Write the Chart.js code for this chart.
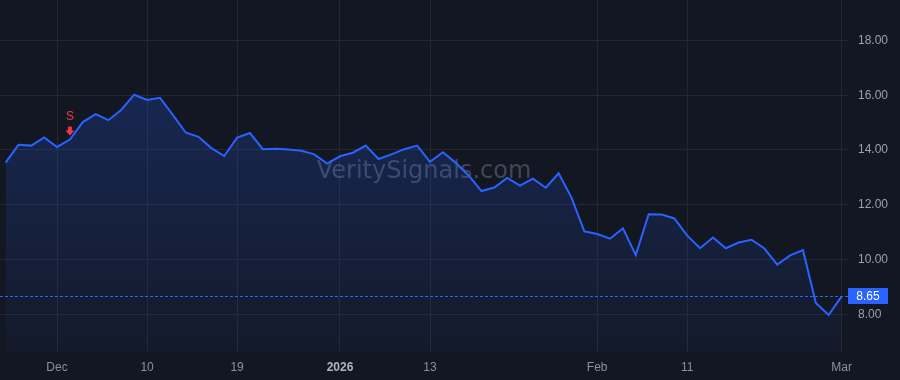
<!DOCTYPE html>
<html><head><meta charset="utf-8">
<script src="https://cdn.jsdelivr.net/npm/chart.js@4.4.1/dist/chart.umd.min.js"></script>
<style>html,body{margin:0;padding:0;background:#131722;}#wrap{width:900px;height:380px;position:relative;}</style>
</head><body><div id="wrap"><canvas id="c"></canvas></div>
<script>
const dates = ['2025-11-24','2025-11-25','2025-11-26','2025-11-28','2025-12-01','2025-12-02','2025-12-03','2025-12-04','2025-12-05','2025-12-08','2025-12-09','2025-12-10','2025-12-11','2025-12-12','2025-12-15','2025-12-16','2025-12-17','2025-12-18','2025-12-19','2025-12-22','2025-12-23','2025-12-24','2025-12-26','2025-12-29','2025-12-30','2025-12-31','2026-01-02','2026-01-05','2026-01-06','2026-01-07','2026-01-08','2026-01-09','2026-01-12','2026-01-13','2026-01-14','2026-01-15','2026-01-16','2026-01-20','2026-01-21','2026-01-22','2026-01-23','2026-01-26','2026-01-27','2026-01-28','2026-01-29','2026-01-30','2026-02-02','2026-02-03','2026-02-04','2026-02-05','2026-02-06','2026-02-09','2026-02-10','2026-02-11','2026-02-12','2026-02-13','2026-02-17','2026-02-18','2026-02-19','2026-02-20','2026-02-23','2026-02-24','2026-02-25','2026-02-26','2026-02-27','2026-03-02'];
const prices = [13.54,14.19,14.16,14.46,14.11,14.38,15.02,15.31,15.09,15.47,16.02,15.83,15.91,15.28,14.64,14.48,14.07,13.78,14.45,14.62,14.03,14.05,14.02,13.97,13.84,13.50,13.77,13.90,14.16,13.67,13.84,14.03,14.16,13.57,13.92,13.53,13.07,12.50,12.63,12.98,12.70,12.95,12.62,13.15,12.26,11.03,10.93,10.76,11.14,10.16,11.65,11.64,11.50,10.87,10.41,10.80,10.41,10.62,10.72,10.40,9.81,10.15,10.34,8.41,7.97,8.65];
const tickIndex = [4,11,18,26,33,46,53,65];
const tickText = ['Dec','10','19','2026','13','Feb','11','Mar'];
const yTicks = [8,10,12,14,16,18];
const signalIndex = [5];
const signalText = ['S'];
const watermarkText = 'VeritySignals.com';

const FONT = '"Liberation Sans", Arial, sans-serif';
const BG = '#131722';
const GRID = '#232733';
const BLUE = '#2962ff';
const RED = '#f23645';

const bgPlugin = {
  id: 'bg',
  beforeDraw(chart) {
    const c = chart.ctx;
    c.save(); c.fillStyle = BG; c.fillRect(0, 0, chart.width, chart.height); c.restore();
  }
};
const watermarkPlugin = {
  id: 'wm',
  beforeDatasetsDraw(chart) {
    const c = chart.ctx;
    c.save();
    c.font = '24px "DejaVu Sans", sans-serif';
    c.fillStyle = 'rgba(210,220,255,0.24)';
    c.textAlign = 'center'; c.textBaseline = 'middle';
    c.fillText(watermarkText, 424, 172);
    c.restore();
  }
};
const overlayPlugin = {
  id: 'overlay',
  afterDatasetsDraw(chart) {
    const c = chart.ctx, ca = chart.chartArea;
    const xs = chart.scales.x, ys = chart.scales.y;
    const last = prices[prices.length - 1];
    const py = Math.round(ys.getPixelForValue(last)) + 0.5;
    c.save();
    c.strokeStyle = BLUE; c.lineWidth = 1; c.setLineDash([3, 2]);
    c.beginPath(); c.moveTo(ca.left, py); c.lineTo(ca.right, py); c.stroke();
    c.setLineDash([]);
    signalIndex.forEach((idx, k) => {
      const x = xs.getPixelForValue(idx);
      const y = ys.getPixelForValue(prices[idx]);
      c.fillStyle = RED;
      c.fillRect(x - 2, y - 13, 4, 5);
      c.beginPath(); c.moveTo(x - 4.5, y - 9); c.lineTo(x + 4.5, y - 9); c.lineTo(x, y - 4); c.closePath(); c.fill();
      c.font = '12px ' + FONT; c.textAlign = 'center'; c.textBaseline = 'middle';
      c.fillText(signalText[k], x, y - 23);
    });
    c.restore();
  },
  afterDraw(chart) {
    const c = chart.ctx, ca = chart.chartArea, ys = chart.scales.y;
    const last = prices[prices.length - 1];
    const py = Math.round(ys.getPixelForValue(last));
    c.save();
    c.fillStyle = BLUE;
    c.fillRect(ca.right, py - 8, 40, 16);
    c.fillStyle = '#ffffff'; c.font = '12px ' + FONT; c.textAlign = 'center'; c.textBaseline = 'middle';
    c.fillText(last.toFixed(2), ca.right + 20, py + 0.5);
    c.restore();
  }
};

function zeroPad(s) { s.paddingTop = 0; s.paddingBottom = 0; s.paddingLeft = 0; s.paddingRight = 0; }

new Chart(document.getElementById('c'), {
  type: 'line',
  data: {
    datasets: [{
      data: prices.map((v, i) => ({ x: i, y: v })),
      borderColor: BLUE,
      borderWidth: 2,
      pointRadius: 0,
      tension: 0,
      fill: 'start',
      backgroundColor(ctx) {
        const ca = ctx.chart.chartArea;
        if (!ca) return 'rgba(41,98,255,0.15)';
        const g = ctx.chart.ctx.createLinearGradient(0, ca.top, 0, ca.bottom);
        g.addColorStop(0, 'rgba(41,98,255,0.28)');
        g.addColorStop(1, 'rgba(41,98,255,0.04)');
        return g;
      }
    }]
  },
  options: {
    responsive: true, maintainAspectRatio: false, animation: false, devicePixelRatio: 1,
    events: [],
    layout: { padding: 0 },
    plugins: { legend: { display: false }, tooltip: { enabled: false } },
    scales: {
      x: {
        type: 'linear', min: -0.435, max: 65.5,
        grid: { color: GRID, drawTicks: false },
        border: { display: false },
        afterBuildTicks(s) { s.ticks = tickIndex.map(v => ({ value: v })); },
        afterFit(s) { s.height = 28; zeroPad(s); },
        ticks: {
          padding: 8, maxRotation: 0, autoSkip: false,
          color: (c) => (c.tick && c.tick.value === 26) ? '#b2b5be' : '#8c909b',
          font: (c) => ({ family: FONT, size: 12, weight: (c.tick && c.tick.value === 26) ? 'bold' : 'normal' }),
          callback: (v) => tickText[tickIndex.indexOf(v)]
        }
      },
      y: {
        position: 'right', min: 6.62, max: 19.48,
        grid: { color: GRID, drawTicks: false },
        border: { display: false },
        afterBuildTicks(s) { s.ticks = yTicks.map(v => ({ value: v })); },
        afterFit(s) { s.width = 52; zeroPad(s); },
        ticks: { padding: 10, color: '#9ea1aa', font: { family: FONT, size: 12 }, callback: (v) => Number(v).toFixed(2) }
      }
    }
  },
  plugins: [bgPlugin, watermarkPlugin, overlayPlugin]
});
</script></body></html>
